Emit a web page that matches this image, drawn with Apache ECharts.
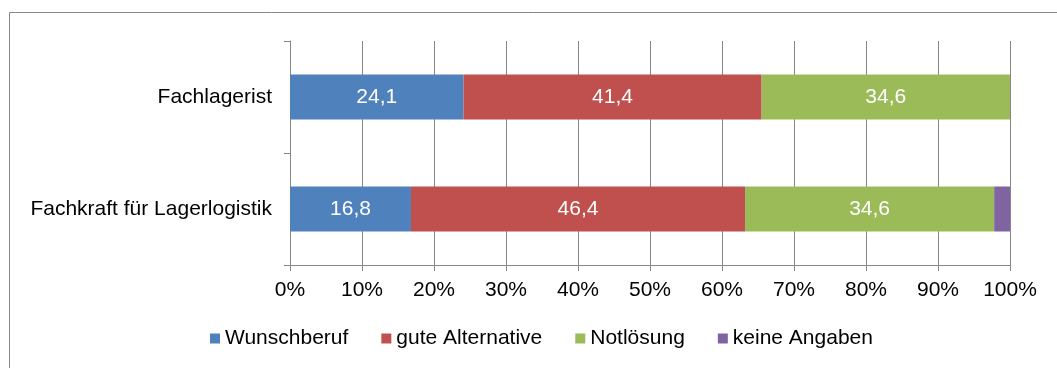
<!DOCTYPE html>
<html>
<head>
<meta charset="utf-8">
<script src="https://cdn.jsdelivr.net/npm/echarts@6/dist/echarts.min.js"></script>
<style>
  html, body { margin: 0; padding: 0; background: #ffffff; }
  #chart { width: 1057px; height: 368px; }
</style>
</head>
<body>
<div id="chart"></div>
<script>
// Berufe (Kategorien) und Anteile in Prozent
const categories = ['Fachlagerist', 'Fachkraft für Lagerlogistik'];
const seriesNames = ['Wunschberuf', 'gute Alternative', 'Notlösung', 'keine Angaben'];
const wunschberuf = [24.1, 16.8];
const guteAlternative = [41.4, 46.4];
const notloesung = [34.6, 34.6];
const keineAngaben = [0, 2.2];
const valueTicks = [0, 10, 20, 30, 40, 50, 60, 70, 80, 90, 100];

const colors = ['#4F81BD', '#C0504D', '#9BBB59', '#8064A2'];
const gray = '#878787';
const font = 'Liberation Sans, Arial, sans-serif';

const values = [wunschberuf, guteAlternative, notloesung, keineAngaben];
const showLabel = [true, true, true, false];

const chart = echarts.init(document.getElementById('chart'), null, { renderer: 'canvas' });

chart.setOption({
  animation: false,
  backgroundColor: '#ffffff',
  color: colors,
  graphic: [{
    type: 'rect',
    shape: { x: 9.5, y: 12.5, width: 1100, height: 400 },
    style: { fill: 'none', stroke: gray, lineWidth: 1 },
    silent: true
  }],
  grid: { left: 290, right: 47, top: 41, bottom: 103 },
  legend: {
    data: seriesNames,
    left: 205,
    top: 323,
    itemWidth: 10,
    itemHeight: 10,
    itemGap: 33,
    icon: 'rect',
    textStyle: { fontFamily: font, fontSize: 21, color: '#000000' }
  },
  xAxis: {
    type: 'value',
    min: valueTicks[0],
    max: valueTicks[valueTicks.length - 1],
    interval: valueTicks[1] - valueTicks[0],
    axisLine: { show: true, lineStyle: { color: gray, width: 1 } },
    axisTick: { show: true, length: 6, lineStyle: { color: gray } },
    splitLine: { show: true, lineStyle: { color: gray, width: 1 } },
    axisLabel: {
      formatter: '{value}%',
      margin: 15,
      fontFamily: font,
      fontSize: 21,
      color: '#000000'
    }
  },
  yAxis: {
    type: 'category',
    data: categories,
    inverse: true,
    axisLine: { show: true, lineStyle: { color: gray, width: 1 } },
    axisTick: { show: true, length: 6, lineStyle: { color: gray } },
    axisLabel: {
      margin: 18,
      fontFamily: font,
      fontSize: 21,
      color: '#000000'
    }
  },
  series: seriesNames.map((name, i) => ({
    name: name,
    type: 'bar',
    stack: 'gesamt',
    barWidth: 45,
    data: values[i],
    itemStyle: { color: colors[i] },
    label: {
      show: showLabel[i],
      position: 'inside',
      color: '#ffffff',
      fontFamily: font,
      fontSize: 21,
      formatter: p => p.value > 0 ? p.value.toFixed(1).replace('.', ',') : ''
    }
  }))
});
</script>
</body>
</html>
